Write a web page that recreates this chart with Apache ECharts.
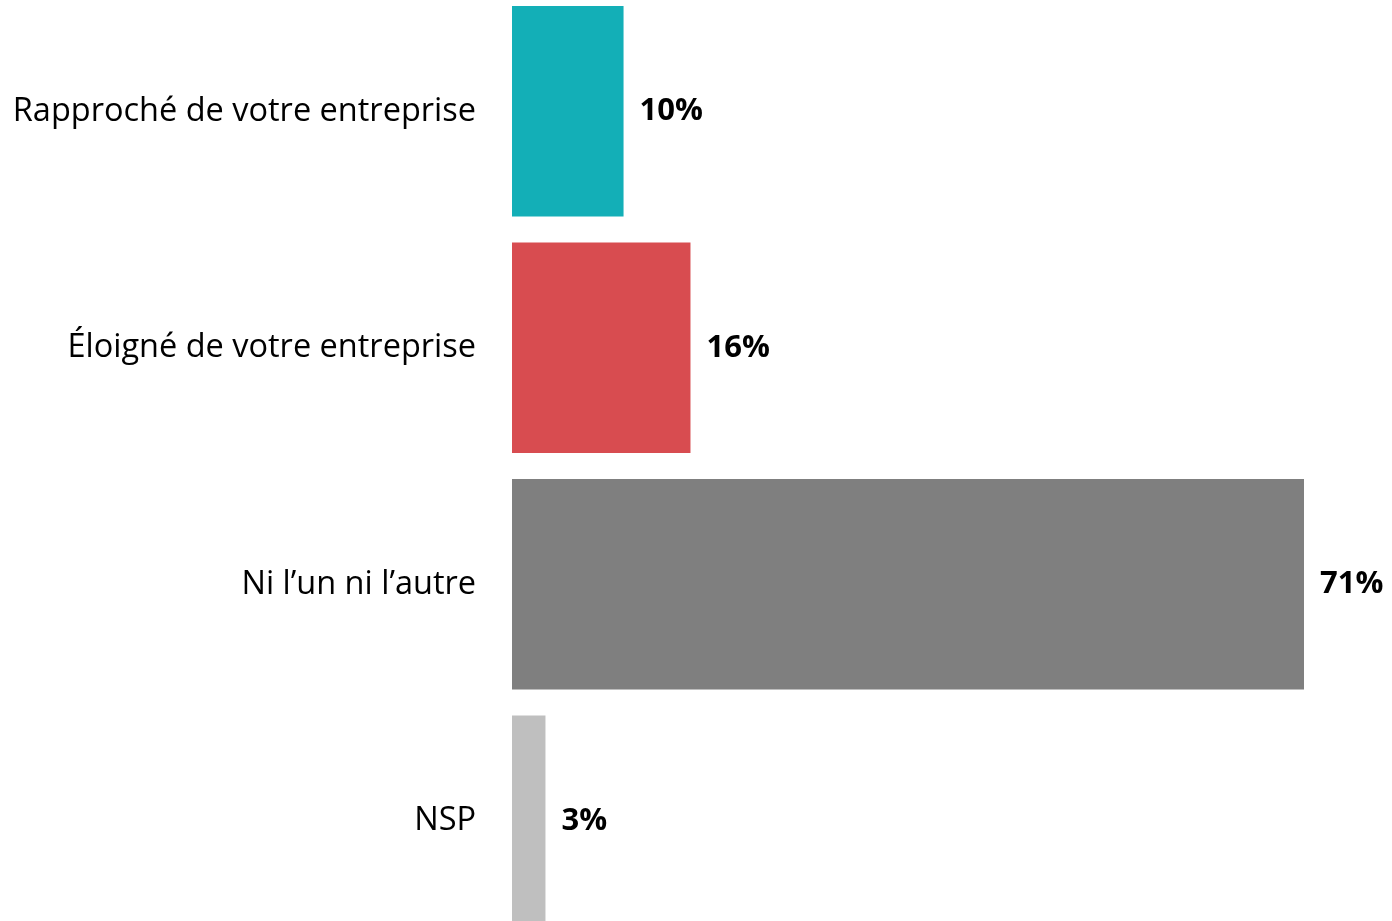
<!DOCTYPE html>
<html><head><meta charset="utf-8">
<script src="https://cdn.jsdelivr.net/npm/echarts@6/dist/echarts.min.js"></script>
<style>html,body{margin:0;padding:0;background:#fff;overflow:hidden;width:1392px;height:921px}
#c{position:absolute;left:0;top:-7px;width:1392px;height:946px}</style>
</head><body><div id="c"></div>
<script>
const categories = ["Rapproché de votre entreprise", "Éloigné de votre entreprise", "Ni l’un ni l’autre", "NSP"];
const values = [10, 16, 71, 3];
const colors = ["#13AFB7", "#D84C50", "#7F7F7F", "#BFBFBF"];
const chart = echarts.init(document.getElementById('c'));
chart.setOption({
  animation: false,
  grid: { left: 512, width: 792, top: 0, bottom: 0, containLabel: false },
  xAxis: { type: 'value', min: 0, max: 71, show: false },
  yAxis: {
    type: 'category', data: categories, inverse: true,
    axisLine: { show: false }, axisTick: { show: false },
    axisLabel: { fontFamily: 'Open Sans', fontSize: 32.5, color: '#000', margin: 36, padding: [8, 0, 0, 0] }
  },
  series: [{
    type: 'bar', barCategoryGap: '11%',
    data: values.map((v, i) => ({ value: v, itemStyle: { color: colors[i] } })),
    label: { show: true, position: 'right', distance: 16, formatter: '{c}%', padding: [12, 0, 0, 0],
      fontFamily: 'Open Sans', fontWeight: 'bold', fontSize: 31, color: '#000' }
  }]
});
</script></body></html>
